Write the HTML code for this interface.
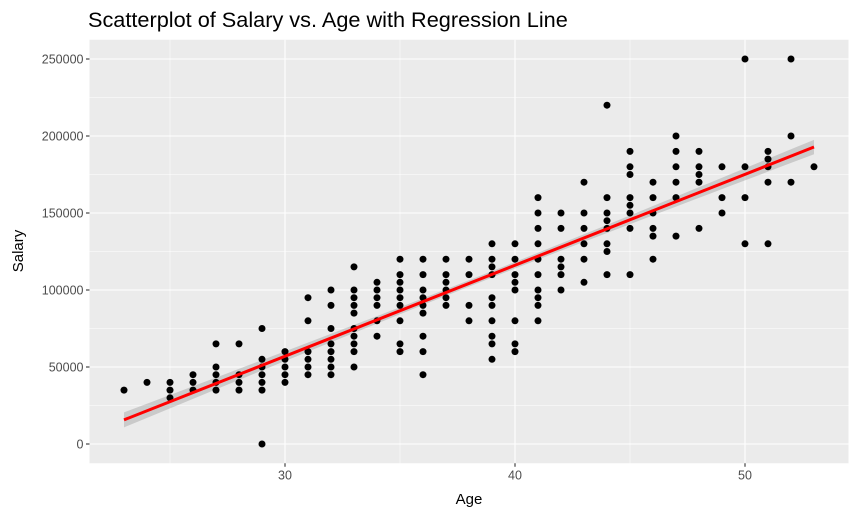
<!DOCTYPE html>
<html><head><meta charset="utf-8"><style>
body{margin:0;background:#fff;}
svg{display:block;font-family:"Liberation Sans",Arial,sans-serif;}
</style></head><body>
<svg id="chart" width="862" height="518">
<text x="88" y="27" font-size="21.7" fill="#000">Scatterplot of Salary vs. Age with Regression Line</text>
<rect x="89.5" y="39.75" width="759" height="423.5" fill="#ebebeb"/>
<g id="grid"></g><g id="band"></g><g id="pts"></g><g id="line"></g><g id="axes"></g>
<text x="469" y="504" font-size="15" text-anchor="middle" fill="#000">Age</text>
<text transform="translate(23,251) rotate(-90)" font-size="15" text-anchor="middle" fill="#000">Salary</text>
</svg>
<script>
const ages=[23,24,25,26,27,28,29,30,31,32,33,34,35,36,37,38,39,40,41,42,43,44,45,46,47,48,49,50,51,52,53];
const salaries=[
[35000],[40000],[40000,35000,30000],[45000,40000,35000],[65000,50000,45000,40000,35000],
[65000,45000,40000,35000],[75000,55000,50000,45000,40000,35000,0],[60000,55000,50000,45000,40000],
[95000,80000,60000,55000,50000,45000],[100000,90000,75000,65000,60000,55000,50000,45000],
[115000,100000,95000,90000,85000,75000,70000,65000,60000,50000],[105000,100000,95000,90000,80000,70000],
[120000,110000,105000,100000,95000,90000,80000,65000,60000],[120000,110000,100000,95000,90000,85000,70000,60000,45000],
[120000,110000,105000,100000,95000,90000],[120000,110000,90000,80000],
[130000,120000,115000,110000,95000,90000,80000,70000,65000,55000],[130000,120000,110000,105000,100000,80000,65000,60000],
[160000,150000,140000,130000,120000,110000,100000,95000,90000,80000],[150000,140000,120000,115000,110000,100000],
[170000,150000,140000,130000,120000,105000],[220000,160000,150000,145000,140000,130000,125000,110000],
[190000,180000,175000,160000,155000,150000,140000,110000],[170000,160000,150000,140000,135000,120000],
[200000,190000,180000,170000,160000,135000],[190000,180000,175000,170000,140000],
[180000,160000,150000],[250000,180000,160000,130000],[190000,185000,180000,170000,130000],[250000,200000,170000],[180000]];
const xTicks=[30,40,50];
const yTicks=[0,50000,100000,150000,200000,250000];
const NS="http://www.w3.org/2000/svg";
const X=v=>285+(v-30)*23;
const Y=v=>444-v*0.00154;
const L=89.5,R=848.5,T=39.75,B=463.25;
function mk(tag,attrs,parent){const e=document.createElementNS(NS,tag);for(const k in attrs)e.setAttribute(k,attrs[k]);document.getElementById(parent).appendChild(e);return e;}
for(const m of [25,35,45]){const e=mk('line',{x1:X(m),x2:X(m),y1:T,y2:B,stroke:'#fff','stroke-width':0.55},'grid');

}
for(let v=25000;v<=225000;v+=50000){const e=mk('line',{x1:L,x2:R,y1:Y(v),y2:Y(v),stroke:'#fff','stroke-width':0.55},'grid');

}
xTicks.forEach(t=>{const e=mk('line',{x1:X(t),x2:X(t),y1:T,y2:B,stroke:'#fff','stroke-width':1.1},'grid');


const k=mk('line',{x1:X(t),x2:X(t),y1:B,y2:B+3.5,stroke:'#333','stroke-width':1.1},'axes');


const l=mk('text',{x:X(t),y:B+16,'font-size':12.5,'text-anchor':'middle',fill:'#4d4d4d'},'axes');l.textContent=t;

});
yTicks.forEach(t=>{const e=mk('line',{x1:L,x2:R,y1:Y(t),y2:Y(t),stroke:'#fff','stroke-width':1.1},'grid');


const k=mk('line',{x1:L-3.5,x2:L,y1:Y(t),y2:Y(t),stroke:'#333','stroke-width':1.1},'axes');


const l=mk('text',{x:L-6,y:Y(t)+4.5,'font-size':12.5,'text-anchor':'end',fill:'#4d4d4d'},'axes');l.textContent=t;

});
let xs=[],ys=[];
ages.forEach((a,i)=>salaries[i].forEach(s=>{xs.push(a);ys.push(s);
const c=mk('circle',{cx:X(a),cy:Y(s),r:3.5,fill:'#000'},'pts');

}));
const n=xs.length,mx=xs.reduce((p,c)=>p+c)/n,my=ys.reduce((p,c)=>p+c)/n;
let sxy=0,sxx=0;for(let i=0;i<n;i++){sxy+=(xs[i]-mx)*(ys[i]-my);sxx+=(xs[i]-mx)**2;}
const b=sxy/sxx,a0=my-b*mx;
let sse=0;for(let i=0;i<n;i++)sse+=(ys[i]-a0-b*xs[i])**2;const se=Math.sqrt(sse/(n-2));
const x0=Math.min(...xs),x1=Math.max(...xs);let up=[],dn=[];
for(let k=0;k<=40;k++){const x=x0+(x1-x0)*k/40,f=a0+b*x,w=1.2*se*Math.sqrt(1/n+(x-mx)**2/sxx);
up.push(X(x)+','+Y(f+w));dn.unshift(X(x)+','+Y(f-w));}
const bd=mk('polygon',{points:up.concat(dn).join(' '),fill:'#999','fill-opacity':0.4},'band');


const ln=mk('line',{x1:X(x0),y1:Y(a0+b*x0),x2:X(x1),y2:Y(a0+b*x1),stroke:'#f00','stroke-width':3},'line');


</script>
</body></html>
